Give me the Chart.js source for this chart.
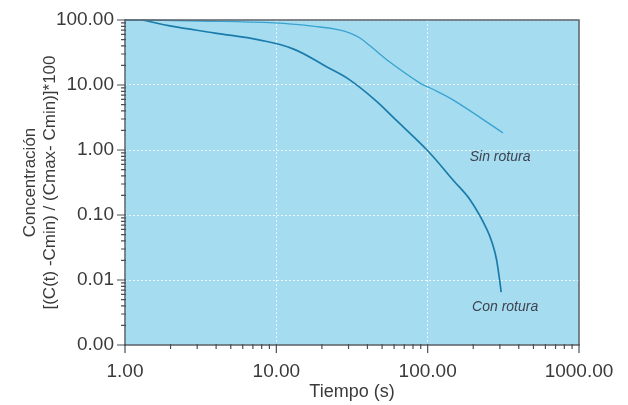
<!DOCTYPE html>
<html>
<head>
<meta charset="utf-8">
<script src="https://cdn.jsdelivr.net/npm/chart.js@4.4.1/dist/chart.umd.min.js"></script>
<style>
    html, body { margin: 0; padding: 0; background: #ffffff; }
    #wrap { width: 628px; height: 405px; }
</style>
</head>
<body>
<div id="wrap"><canvas id="chart" width="628" height="405"></canvas></div>
<script>
// Con rotura
const tiempoCon = [1.31, 1.98, 3.93, 7.8, 12.9, 21.6, 30.7, 45.6, 59, 99, 147, 191, 247, 279, 297, 306]
const conRotura = [100, 81, 63, 49, 36, 18.9, 11.9, 5.7, 3.2, 1.0, 0.345, 0.17, 0.059, 0.026, 0.0111, 0.0065]

// Sin rotura
const tiempoSin = [1, 3.13, 9.8, 19.4, 26.4, 30.7, 35.7, 41.6, 53.9, 89, 104, 147, 315]
const sinRotura = [100, 96.5, 90, 78, 70, 63, 53, 40, 24.3, 10.7, 9.0, 5.9, 1.83]

const xTicks = [1, 10, 100, 1000]
const yTicks = [0.001, 0.01, 0.1, 1, 10, 100]

// curve names and where they sit (data coords)
const curveLabels = ["Sin rotura", "Con rotura"]
const labelAt = [[301, 0.78], [325, 0.0038]]

const textColor = "#3a3a3a"
const font = "'Liberation Sans', Arial, Helvetica, sans-serif"

function minorTicks(min, max) {
    const out = []
    for (let d = Math.log10(min); d < Math.log10(max); d++) {
        for (let k = 1; k < 10; k++) out.push(k * Math.pow(10, d))
    }
    out.push(max)
    return out
}

function isMajor(v, list) {
    return list.some(t => Math.abs(t - v) / t < 1e-6)
}

const areaPlugin = {
    id: "area",
    beforeDraw(chart) {
        const { ctx, chartArea: a } = chart
        ctx.save()
        ctx.fillStyle = "#a6dcf0"
        ctx.fillRect(a.left, a.top, a.right - a.left, a.bottom - a.top)
        ctx.restore()
    },
    afterDatasetsDraw(chart) {
        const { ctx, chartArea: a, scales } = chart
        ctx.save()
        // frame
        ctx.strokeStyle = "#5a6068"
        ctx.lineWidth = 1.5
        ctx.strokeRect(a.left, a.top, a.right - a.left, a.bottom - a.top)

        // tick marks
        ctx.strokeStyle = "#4a4f55"
        ctx.lineWidth = 1.2
        ctx.beginPath()
        scales.y.ticks.forEach(t => {
            const p = scales.y.getPixelForValue(t.value)
            const len = isMajor(t.value, yTicks) ? 8 : 4
            ctx.moveTo(a.left - len, p)
            ctx.lineTo(a.left + 1, p)
        })
        scales.x.ticks.forEach(t => {
            const p = scales.x.getPixelForValue(t.value)
            const len = isMajor(t.value, xTicks) ? 8 : 4
            ctx.moveTo(p, a.bottom - 1)
            ctx.lineTo(p, a.bottom + len)
        })
        ctx.stroke()

        // curve labels
        ctx.fillStyle = "#3d4450"
        ctx.font = "italic 14px " + font
        ctx.textAlign = "center"
        ctx.textBaseline = "middle"
        curveLabels.forEach((txt, i) => {
            const x = scales.x.getPixelForValue(labelAt[i][0])
            const y = scales.y.getPixelForValue(labelAt[i][1])
            ctx.fillText(txt, x, y)
        })
        ctx.restore()
    }
}

const ctx = document.getElementById("chart").getContext("2d")
new Chart(ctx, {
    type: "line",
    data: {
        datasets: [{
            label: "Sin rotura",
            data: tiempoSin.map((t, i) => ({ x: t, y: sinRotura[i] })),
            borderColor: "#39a3d0",
            borderWidth: 1.3,
            pointRadius: 0,
            tension: 0.4
        }, {
            label: "Con rotura",
            data: tiempoCon.map((t, i) => ({ x: t, y: conRotura[i] })),
            borderColor: "#1a7cab",
            borderWidth: 1.7,
            pointRadius: 0,
            tension: 0.4
        }]
    },
    options: {
        responsive: false,
        animation: false,
        clip: false,
        layout: { autoPadding: false, padding: { top: 20, right: 49, bottom: 0, left: 0 } },
        plugins: { legend: { display: false }, tooltip: { enabled: false } },
        scales: {
            x: {
                type: "logarithmic",
                min: 1, max: 1000,
                afterBuildTicks: s => { s.ticks = minorTicks(1, 1000).map(v => ({ value: v })) },
                afterFit: s => { s.height = 60; s.paddingLeft = 0; s.paddingRight = 0 },
                ticks: {
                    autoSkip: false,
                    maxRotation: 0,
                    padding: 15,
                    color: textColor,
                    font: { family: font, size: 19 },
                    callback: v => isMajor(v, xTicks) ? v.toFixed(2) : ""
                },
                grid: {
                    drawTicks: false,
                    color: c => isMajor(c.tick.value, xTicks) ? "rgba(255,255,255,0.8)" : "rgba(0,0,0,0)",
                    lineWidth: 1
                },
                border: { display: false, dash: [2, 2] },
                title: {
                    display: true,
                    text: "Tiempo (s)",
                    color: textColor,
                    font: { family: font, size: 18 },
                    padding: { top: 0, bottom: 2 }
                }
            },
            y: {
                type: "logarithmic",
                min: 0.001, max: 100,
                afterBuildTicks: s => { s.ticks = minorTicks(0.001, 100).map(v => ({ value: v })) },
                afterFit: s => { s.width = 125; s.paddingTop = 0; s.paddingBottom = 0 },
                ticks: {
                    autoSkip: false,
                    padding: 11,
                    color: textColor,
                    font: { family: font, size: 19 },
                    callback: v => isMajor(v, yTicks) ? v.toFixed(2) : ""
                },
                grid: {
                    drawTicks: false,
                    color: c => isMajor(c.tick.value, yTicks) ? "rgba(255,255,255,0.8)" : "rgba(0,0,0,0)",
                    lineWidth: 1
                },
                border: { display: false, dash: [2, 2] },
                title: {
                    display: true,
                    text: ["Concentración", "[(C(t) -Cmin) / (Cmax- Cmin)]*100"],
                    color: textColor,
                    font: { family: font, size: 17 },
                    padding: { top: 20, bottom: 0 }
                }
            }
        }
    },
    plugins: [areaPlugin]
})
</script>
</body>
</html>
